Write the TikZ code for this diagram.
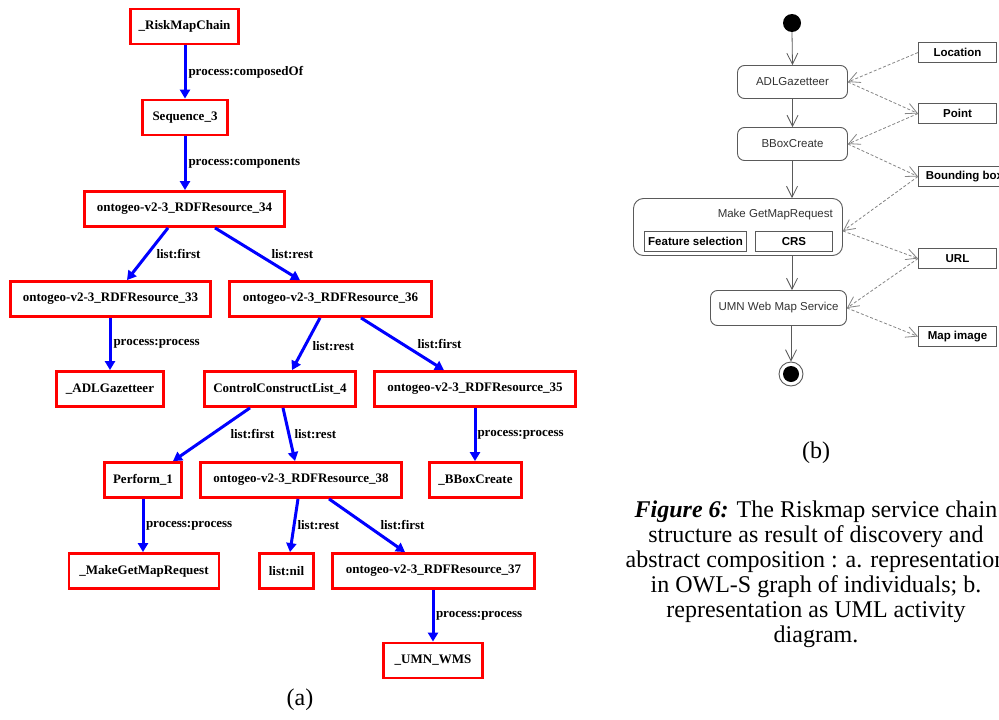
\documentclass[tikz,border=0pt]{standalone}
\usepackage{fontspec}
\setmainfont{Liberation Serif}
\newfontfamily\umlfont{Liberation Sans}
\usetikzlibrary{arrows.meta}
\definecolor{umlline}{HTML}{5A5A5A}
\definecolor{umldash}{HTML}{858585}
\definecolor{umltext}{HTML}{333333}
\begin{document}
\begin{tikzpicture}[x=1pt,y=-1pt,
  indiv/.style={draw=red, line width=2.8pt, minimum height=35pt, inner sep=0pt,
    font=\fontsize{13}{15}\selectfont\bfseries},
  prop/.style={draw=blue, line width=3pt, -{Triangle[length=9pt,width=10pt]}},
  plabel/.style={font=\fontsize{13}{15}\selectfont\bfseries, text=black, inner sep=0pt, anchor=west},
  action/.style={draw=umlline, line width=0.9pt, rounded corners=7pt, inner sep=0pt,
    minimum height=33pt, font=\umlfont\fontsize{11.5}{13}\selectfont, text=umltext},
  objbox/.style={draw=umlline, line width=0.9pt, inner sep=0pt, minimum height=20pt,
    font=\umlfont\fontsize{11.5}{13}\selectfont\bfseries},
  flow/.style={draw=umlline, line width=0.8pt, -{Straight Barb[length=11pt,width=11pt]}},
  objflow/.style={draw=umldash, line width=0.8pt, dash pattern=on 3pt off 2pt,
    -{Straight Barb[length=11pt,width=11pt]}},
  capfont/.style={font=\fontsize{24}{25}\selectfont},
]
\clip (0,0) rectangle (999,720);
\fill[white] (0,0) rectangle (999,720);

% ---------- (a) OWL-S graph of individuals ----------
\node[indiv, minimum width=108pt] (rmc)  at (184.5,26.5) {\_RiskMapChain};
\node[indiv, minimum width=85pt]  (seq)  at (185,117.5)  {Sequence\_3};
\node[indiv, minimum width=200pt] (r34)  at (184.5,209)  {ontogeo-v2-3\_RDFResource\_34};
\node[indiv, minimum width=200pt] (r33)  at (110.5,299)  {ontogeo-v2-3\_RDFResource\_33};
\node[indiv, minimum width=202pt] (r36)  at (330.5,299)  {ontogeo-v2-3\_RDFResource\_36};
\node[indiv, minimum width=107pt] (adl)  at (110,389)    {\_ADLGazetteer};
\node[indiv, minimum width=151pt] (ccl)  at (280,389)    {ControlConstructList\_4};
\node[indiv, minimum width=201pt] (r35)  at (475,389)    {ontogeo-v2-3\_RDFResource\_35};
\node[indiv, minimum width=77pt]  (perf) at (143,480)    {Perform\_1};
\node[indiv, minimum width=201pt] (r38)  at (301,480)    {ontogeo-v2-3\_RDFResource\_38};
\node[indiv, minimum width=92pt]  (bbc0) at (475.5,480)  {\_BBoxCreate};
\node[indiv, minimum width=150pt] (mgm)  at (144,571)    {\_MakeGetMapRequest};
\node[indiv, minimum width=54pt]  (nil)  at (286.5,571)  {list:nil};
\node[indiv, minimum width=202pt] (r37)  at (433.5,571)  {ontogeo-v2-3\_RDFResource\_37};
\node[indiv, minimum width=99pt]  (umn)  at (433,660.5)  {\_UMN\_WMS};

\draw[prop] ([xshift=0.5pt]rmc.south) -- node[plabel, xshift=2pt] (l1) {process:composedOf} (seq.north);
\draw[prop] (seq.south) -- node[plabel, xshift=2pt] (l2) {process:components} ([xshift=0.5pt]r34.north);
\draw[prop] ([xshift=-16.5pt]r34.south) -- node[plabel, xshift=7.5pt] (l3) {list:first} ([xshift=16.5pt]r33.north);
\draw[prop] ([xshift=30.5pt]r34.south) -- node[plabel, xshift=12.5pt] (l4) {list:rest} ([xshift=-30.5pt]r36.north);
\draw[prop] ([xshift=-0.5pt]r33.south) -- node[plabel, xshift=2pt] (l5) {process:process} (adl.north);
\draw[prop] ([xshift=-10.5pt]r36.south) -- node[plabel, xshift=5pt, yshift=-2pt] (l6) {list:rest} ([xshift=12pt]ccl.north);
\draw[prop] ([xshift=30.5pt]r36.south) -- node[plabel, xshift=13.5pt] (l7) {list:first} ([xshift=-31pt]r35.north);
\draw[prop] ([xshift=-30pt]ccl.south) -- node[plabel, xshift=17.5pt] (l8) {list:first} ([xshift=30pt]perf.north);
\draw[prop] ([xshift=3pt]ccl.south) -- node[plabel, xshift=4pt] (l9) {list:rest} ([xshift=-6pt]r38.north);
\draw[prop] (r35.south) -- node[plabel, xshift=1pt] (l10) {process:process} ([xshift=-0.5pt]bbc0.north);
\draw[prop] (perf.south) -- node[plabel, xshift=1.5pt] (l11) {process:process} ([xshift=-1pt]mgm.north);
\draw[prop] ([xshift=-3pt]r38.south) -- node[plabel, xshift=2pt] (l12) {list:rest} ([xshift=3.5pt]nil.north);
\draw[prop] ([xshift=28pt]r38.south) -- node[plabel, xshift=12pt] (l13) {list:first} ([xshift=-28.5pt]r37.north);
\draw[prop] ([xshift=-0.5pt]r37.south) -- node[plabel, xshift=1.5pt] (l14) {process:process} (umn.north);

\node[capfont] (capa) at (300,700) {(a)};

% ---------- (b) UML activity diagram ----------
\node[circle, fill=black, minimum size=18pt, inner sep=0pt] (init) at (792,23) {};
\node[action, minimum width=110pt] (adlg) at (792.5,82)  {ADLGazetteer};
\node[action, minimum width=110pt] (bbox) at (792.5,144) {BBoxCreate};
\node[action, minimum width=209pt, minimum height=57pt, rounded corners=10pt] (mkreq) at (738,227) {};
\node[anchor=east, inner sep=0pt, font=\umlfont\fontsize{11.5}{13}\selectfont, text=umltext] (mktitle) at (833,215) {Make GetMapRequest};
\node[objbox, minimum width=102pt] (fsel) at (695.5,241.5) {Feature selection};
\node[objbox, minimum width=77pt]  (crs)  at (794,241.5)   {CRS};
\node[action, minimum width=136pt, minimum height=35pt] (wms) at (778.5,308) {UMN Web Map Service};
\node[circle, draw=umlline, line width=0.9pt, fill=white, minimum size=24pt, inner sep=0pt] (fin) at (791,374) {};
\node[circle, fill=black, minimum size=16pt, inner sep=0pt] (finin) at (fin.center) {};

\node[objbox, minimum width=78pt] (oloc) at (957.5,52.5)  {Location};
\node[objbox, minimum width=78pt] (opnt) at (957.5,113.5) {Point};
\node[objbox, minimum width=92pt, anchor=west, align=left, inner xsep=3.5pt] (obbx) at (918,176.5) {Bounding box};
\node[objbox, minimum width=78pt] (ourl) at (957.5,258.5) {URL};
\node[objbox, minimum width=78pt] (omap) at (957.5,336.5) {Map image};

\draw[flow] (init.south) -- (adlg.north);
\draw[flow] (adlg.south) -- (bbox.north);
\draw[flow] ([xshift=-0.5pt]bbox.south) -- ([xshift=54pt]mkreq.north);
\draw[flow] ([xshift=54pt]mkreq.south) -- ([xshift=13.5pt]wms.north);
\draw[flow] ([xshift=12.5pt]wms.south) -- (fin.north);

\draw[objflow] (oloc.west) -- (adlg.east);
\draw[objflow] (adlg.east) -- (opnt.west);
\draw[objflow] (opnt.west) -- (bbox.east);
\draw[objflow] (bbox.east) -- (obbx.west);
\draw[objflow] (obbx.west) -- ([yshift=-4pt]mkreq.east);
\draw[objflow] ([yshift=-4pt]mkreq.east) -- (ourl.west);
\draw[objflow] (ourl.west) -- (wms.east);
\draw[objflow] (wms.east) -- (omap.west);

\node[capfont] (capb) at (816,453) {(b)};

\node[capfont, anchor=north, align=center, inner sep=0pt] (caption) at (816,500.5)
  {\textbf{\textit{Figure 6:}} The Riskmap service chain\\
   structure as result of discovery and\\
   abstract composition : a. representation\\
   in OWL-S graph of individuals; b.\\
   representation as UML activity\\
   diagram.};
\end{tikzpicture}
\end{document}
